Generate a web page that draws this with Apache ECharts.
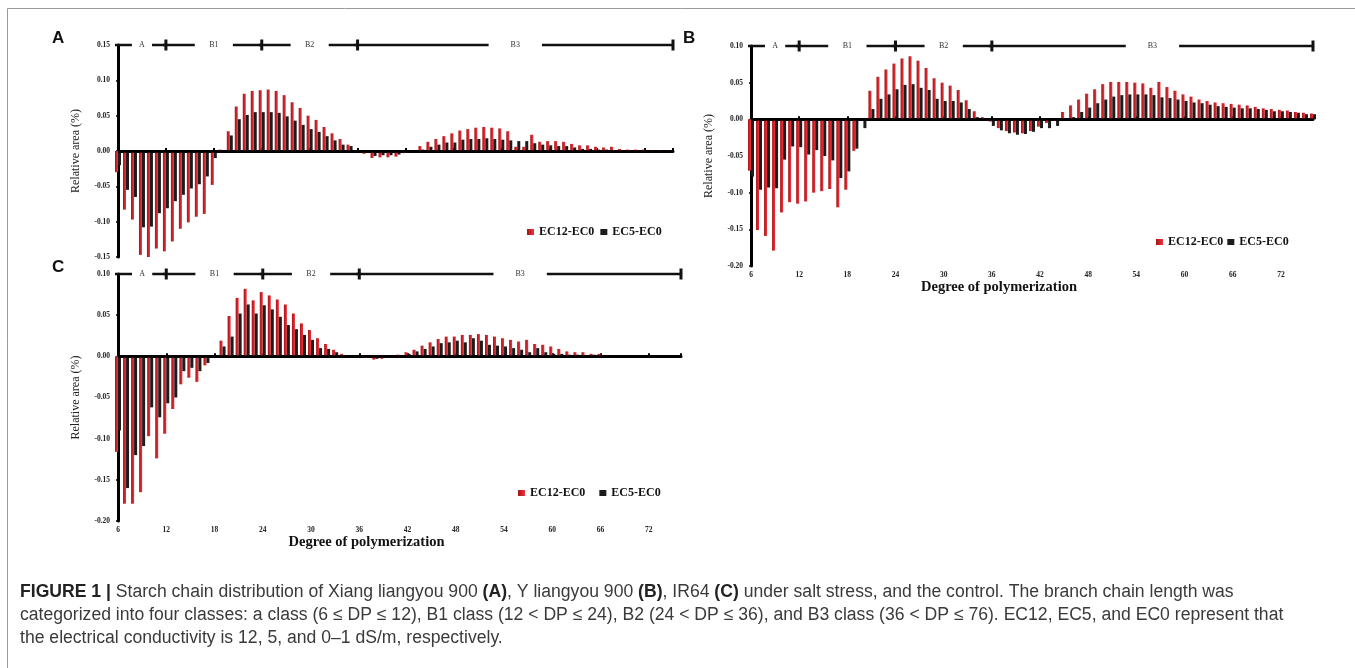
<!DOCTYPE html>
<html>
<head>
<meta charset="utf-8">
<script src="https://cdn.jsdelivr.net/npm/echarts@6/dist/echarts.min.js"></script>
<style>
html, body { margin: 0; padding: 0; background: #fff; }
#chart { width: 1355px; height: 668px; }
</style>
</head>
<body>
<div id="chart"></div>
<script>
// degree of polymerization (x categories, DP 6..76)
var degrees = [6, 7, 8, 9, 10, 11, 12, 13, 14, 15, 16, 17, 18, 19, 20, 21, 22, 23, 24, 25,
    26, 27, 28, 29, 30, 31, 32, 33, 34, 35, 36, 37, 38, 39, 40, 41, 42, 43, 44, 45,
    46, 47, 48, 49, 50, 51, 52, 53, 54, 55, 56, 57, 58, 59, 60, 61, 62, 63, 64, 65,
    66, 67, 68, 69, 70, 71, 72, 73, 74, 75, 76];
var xTicks = [6, 12, 18, 24, 30, 36, 42, 48, 54, 60, 66, 72];
var classNames = ['A', 'B1', 'B2', 'B3'];
var classBreaks = [6, 12, 24, 36, 76];
var seriesNames = ['EC12-EC0', 'EC5-EC0'];

// panel A : Xiang liangyou 900 (DP 6..75)
var redA = [-0.030, -0.083, -0.097, -0.147, -0.155, -0.138, -0.142, -0.128, -0.110, -0.101,
    -0.093, -0.089, -0.048, 0.002, 0.028, 0.063, 0.081, 0.085, 0.086, 0.087,
    0.085, 0.079, 0.069, 0.061, 0.050, 0.044, 0.034, 0.025, 0.017, 0.009,
    0.001, -0.004, -0.010, -0.009, -0.009, -0.008, -0.003, 0.000, 0.007, 0.013,
    0.017, 0.021, 0.025, 0.029, 0.031, 0.033, 0.034, 0.033, 0.032, 0.028,
    0.006, 0.006, 0.023, 0.013, 0.014, 0.014, 0.013, 0.010, 0.008, 0.008,
    0.006, 0.005, 0.006, 0.003, 0.002, 0.002, 0.002, 0.001, 0.001, 0.001];
var blackA = [-0.020, -0.055, -0.065, -0.108, -0.107, -0.088, -0.081, -0.071, -0.062, -0.053,
    -0.047, -0.036, -0.010, 0.001, 0.022, 0.045, 0.051, 0.055, 0.055, 0.055,
    0.054, 0.049, 0.043, 0.037, 0.031, 0.027, 0.021, 0.015, 0.009, 0.007,
    0.001, -0.002, -0.007, -0.006, -0.006, -0.005, -0.002, 0.000, 0.002, 0.006,
    0.009, 0.012, 0.012, 0.016, 0.017, 0.017, 0.018, 0.017, 0.016, 0.015,
    0.014, 0.014, 0.011, 0.009, 0.008, 0.007, 0.007, 0.005, 0.003, 0.003,
    0.002, 0.002, 0.001, 0.001, 0.001, 0.001, 0.001, 0.000, 0.000, 0.000];

// panel B : Y liangyou 900 (DP 6..76)
var redB = [-0.070, -0.151, -0.159, -0.179, -0.127, -0.113, -0.115, -0.112, -0.100, -0.098,
    -0.095, -0.120, -0.096, -0.043, 0.001, 0.039, 0.058, 0.068, 0.076, 0.083,
    0.086, 0.080, 0.070, 0.056, 0.050, 0.046, 0.040, 0.026, 0.011, 0.003,
    -0.003, -0.012, -0.016, -0.018, -0.019, -0.016, -0.010, -0.005, -0.002, 0.010,
    0.019, 0.027, 0.035, 0.041, 0.048, 0.051, 0.051, 0.051, 0.050, 0.049,
    0.043, 0.051, 0.044, 0.039, 0.034, 0.031, 0.027, 0.025, 0.023, 0.022,
    0.021, 0.020, 0.019, 0.017, 0.015, 0.014, 0.013, 0.012, 0.010, 0.009, 0.008];
var blackB = [-0.078, -0.096, -0.093, -0.094, -0.055, -0.037, -0.038, -0.048, -0.042, -0.050,
    -0.056, -0.080, -0.071, -0.040, -0.012, 0.014, 0.028, 0.034, 0.041, 0.047,
    0.048, 0.043, 0.040, 0.028, 0.025, 0.025, 0.023, 0.014, 0.003, -0.001,
    -0.009, -0.015, -0.019, -0.021, -0.020, -0.017, -0.012, -0.012, -0.009, -0.002,
    0.003, 0.010, 0.016, 0.022, 0.027, 0.031, 0.033, 0.034, 0.034, 0.034,
    0.033, 0.030, 0.029, 0.027, 0.025, 0.023, 0.022, 0.020, 0.018, 0.017,
    0.016, 0.015, 0.015, 0.014, 0.013, 0.011, 0.011, 0.010, 0.009, 0.007, 0.007];

// panel C : IR64 (DP 6..76)
var redC = [-0.116, -0.179, -0.179, -0.165, -0.097, -0.124, -0.094, -0.064, -0.034, -0.026,
    -0.031, -0.011, 0.000, 0.019, 0.049, 0.071, 0.082, 0.068, 0.078, 0.074,
    0.069, 0.063, 0.052, 0.040, 0.032, 0.022, 0.015, 0.008, 0.003, 0.000,
    0.000, -0.002, -0.004, -0.003, -0.001, 0.002, 0.005, 0.008, 0.013, 0.017,
    0.021, 0.024, 0.024, 0.026, 0.026, 0.027, 0.026, 0.024, 0.022, 0.020,
    0.018, 0.020, 0.015, 0.014, 0.012, 0.009, 0.006, 0.005, 0.005, 0.003,
    0.003, 0.001, 0.000, 0.000, 0.000, 0.000, 0.000, 0.000, 0.000, 0.000, 0.000];
var blackC = [-0.090, -0.160, -0.120, -0.109, -0.062, -0.074, -0.057, -0.050, -0.018, -0.014,
    -0.018, -0.008, 0.000, 0.012, 0.024, 0.052, 0.063, 0.052, 0.062, 0.057,
    0.048, 0.038, 0.033, 0.026, 0.020, 0.010, 0.009, 0.005, 0.001, 0.000,
    0.000, -0.001, -0.003, -0.002, -0.001, 0.001, 0.003, 0.006, 0.009, 0.012,
    0.016, 0.017, 0.019, 0.017, 0.022, 0.019, 0.014, 0.013, 0.012, 0.010,
    0.008, 0.005, 0.010, 0.005, 0.003, 0.003, 0.002, 0.002, 0.001, 0.002,
    0.001, 0.000, 0.000, 0.000, 0.000, 0.000, 0.000, 0.000, 0.000, 0.000, 0.000];

var RED = new echarts.graphic.LinearGradient(0, 0, 1, 0, [
    { offset: 0, color: '#a51318' }, { offset: 1, color: '#f0333a' }
]);
var BLACK = '#1c1c1c';
var SERIF = '"Liberation Serif", "Times New Roman", serif';
var SANS = '"Liberation Sans", Arial, sans-serif';

var myChart = echarts.init(document.getElementById('chart'));

function pairs(values) {
    return values.map(function (v, i) { return [degrees[i], v]; });
}

function classData() {
    return classNames.map(function (n, i) { return [classBreaks[i], classBreaks[i + 1], n]; });
}

function xAxisFor(idx, max, showLabels, withName) {
    return {
        type: 'value', gridIndex: idx, min: 6, max: max, interval: 6,
        axisLine: { lineStyle: { color: '#000', width: 3 } },
        axisTick: { show: true, inside: true, length: 3, lineStyle: { color: '#000', width: 2 } },
        axisLabel: {
            show: showLabels, margin: 5,
            color: '#222', fontSize: 7.5, fontWeight: 'bold', fontFamily: SERIF,
            formatter: function (v) { return xTicks.indexOf(v) >= 0 ? String(v) : ''; }
        },
        splitLine: { show: false },
        name: withName ? 'Degree of polymerization' : '',
        nameLocation: 'middle', nameGap: 13,
        nameTextStyle: {
            color: '#111', fontSize: 14.5, fontWeight: 'bold', fontFamily: SERIF,
            padding: [0, 66, 0, 0]
        }
    };
}

function yAxisFor(idx, min, max) {
    return {
        type: 'value', gridIndex: idx, min: min, max: max, interval: 0.05,
        axisLine: { show: true, lineStyle: { color: '#000', width: 3 } },
        axisTick: { show: true, length: 2, lineStyle: { color: '#000', width: 1.5 } },
        axisLabel: {
            margin: 8, color: '#222', fontSize: 7.5, fontWeight: 'bold', fontFamily: SERIF,
            formatter: function (v) { return Math.abs(v) < 1e-9 ? '0.00' : v.toFixed(2); }
        },
        splitLine: { show: false },
        name: 'Relative area (%)', nameLocation: 'middle', nameRotate: 90, nameGap: 36,
        nameTextStyle: { color: '#222', fontSize: 12, fontFamily: SERIF }
    };
}

function panelSeries(idx, red, black, xMax, yTop) {
    return [
        {
            name: seriesNames[0], type: 'bar', xAxisIndex: idx, yAxisIndex: idx,
            barWidth: 3, barGap: '0%', itemStyle: { color: RED },
            data: pairs(red),
            markLine: {
                silent: true, symbol: 'none', label: { show: false },
                lineStyle: { color: '#000', width: 2.5, type: 'solid' },
                data: [{ yAxis: 0 }]
            }
        },
        {
            name: seriesNames[1], type: 'bar', xAxisIndex: idx, yAxisIndex: idx,
            barWidth: 3, barGap: '0%', itemStyle: { color: BLACK },
            data: pairs(black)
        },
        {
            type: 'custom', xAxisIndex: idx, yAxisIndex: idx, clip: false, silent: true,
            data: classData(),
            renderItem: function (params, api) {
                var s = api.value(0), e = Math.min(api.value(1), xMax);
                var p1 = api.coord([s, yTop]);
                var p2 = api.coord([e, yTop]);
                var y = p1[1];
                var pad = Math.min(22, (p2[0] - p1[0]) * 0.15);
                return {
                    type: 'group',
                    children: [
                        { type: 'line', shape: { x1: p1[0] - 3, y1: y, x2: p2[0], y2: y },
                          style: { stroke: '#111', lineWidth: 2.5 } },
                        { type: 'rect', shape: { x: p2[0] - 1.5, y: y - 5.5, width: 3, height: 11 },
                          style: { fill: '#111' } },
                        { type: 'text', x: (p1[0] + p2[0]) / 2, y: y,
                          style: { text: api.value(2), align: 'center', verticalAlign: 'middle',
                                   fontSize: 8, fontFamily: SERIF, fill: '#333',
                                   backgroundColor: '#fff', padding: [2, pad] } }
                    ]
                };
            }
        }
    ];
}

var legendText = { color: '#111', fontSize: 12, fontWeight: 'bold', fontFamily: SERIF };
var captionFont = { fontSize: 17.6, fontFamily: SANS, fill: '#3a3a3a', verticalAlign: 'middle' };

var option = {
    animation: false,
    grid: [
        { left: 118, right: 682, top: 45, bottom: 411 },
        { left: 751, right: 42, top: 46, bottom: 402 },
        { left: 118, right: 674, top: 274, bottom: 147 }
    ],
    xAxis: [
        xAxisFor(0, 75.5, false, false),
        xAxisFor(1, 76, true, true),
        xAxisFor(2, 76, true, true)
    ],
    yAxis: [
        yAxisFor(0, -0.15, 0.15),
        yAxisFor(1, -0.20, 0.10),
        yAxisFor(2, -0.20, 0.10)
    ],
    legend: [
        { left: 527, top: 226, icon: 'rect', itemWidth: 7, itemHeight: 6, itemGap: 6,
          data: seriesNames, textStyle: legendText, padding: 0 },
        { left: 1156, top: 236, icon: 'rect', itemWidth: 7, itemHeight: 6, itemGap: 4,
          data: seriesNames, textStyle: legendText, padding: 0 },
        { left: 518, top: 487, icon: 'rect', itemWidth: 7, itemHeight: 6, itemGap: 14,
          data: seriesNames, textStyle: legendText, padding: 0 }
    ],
    series: [].concat(
        panelSeries(0, redA, blackA, 75.5, 0.15),
        panelSeries(1, redB, blackB, 76, 0.10),
        panelSeries(2, redC, blackC, 76, 0.10)
    ),
    graphic: [
        { type: 'rect', z: -10, shape: { x: 7.5, y: 8.5, width: 1400, height: 700 },
          style: { fill: 'none', stroke: '#9a9a9a', lineWidth: 1 } },
        { type: 'text', x: 52, y: 38, style: { text: 'A', fontSize: 17, fontWeight: 'bold',
          fontFamily: SANS, fill: '#111', verticalAlign: 'middle' } },
        { type: 'text', x: 683, y: 38, style: { text: 'B', fontSize: 17, fontWeight: 'bold',
          fontFamily: SANS, fill: '#111', verticalAlign: 'middle' } },
        { type: 'text', x: 52, y: 267, style: { text: 'C', fontSize: 17, fontWeight: 'bold',
          fontFamily: SANS, fill: '#111', verticalAlign: 'middle' } },
        { type: 'text', x: 20, y: 592, style: echarts.util.extend({
            text: '{b|FIGURE 1 |} Starch chain distribution of Xiang liangyou 900 {b|(A)}, Y liangyou 900 {b|(B)}, IR64 {b|(C)} under salt stress, and the control. The branch chain length was',
            rich: { b: { fontSize: 17.6, fontWeight: 'bold', fontFamily: SANS, fill: '#222' } } }, captionFont) },
        { type: 'text', x: 20, y: 615, style: echarts.util.extend({
            text: 'categorized into four classes: a class (6 \u2264 DP \u2264 12), B1 class (12 < DP \u2264 24), B2 (24 < DP \u2264 36), and B3 class (36 < DP \u2264 76). EC12, EC5, and EC0 represent that' }, captionFont) },
        { type: 'text', x: 20, y: 638, style: echarts.util.extend({
            text: 'the electrical conductivity is 12, 5, and 0\u20131 dS/m, respectively.' }, captionFont) }
    ]
};

myChart.setOption(option, true);
</script>
</body>
</html>
